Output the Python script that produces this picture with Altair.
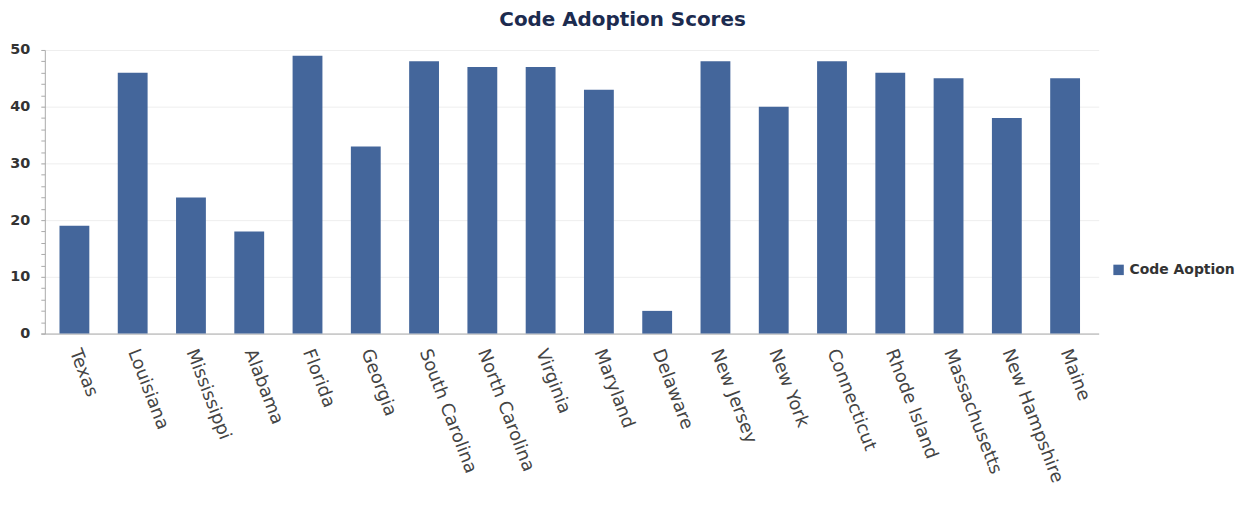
import altair as alt
import pandas as pd

states = ["Texas", "Louisiana", "Mississippi", "Alabama", "Florida", "Georgia",
          "South Carolina", "North Carolina", "Virginia", "Maryland", "Delaware",
          "New Jersey", "New York", "Connecticut", "Rhode Island", "Massachusetts",
          "New Hampshire", "Maine"]
scores = [19, 46, 24, 18, 49, 33, 48, 47, 47, 43, 4, 48, 40, 48, 46, 45, 38, 45]
series = ["Code Aoption"] * len(states)

df = pd.DataFrame({"State": states, "Score": scores, "Series": series})

FONT = "DejaVu Sans"

chart = alt.Chart(df).mark_bar(color="#44669b").encode(
    x=alt.X("State:N", sort=states, title=None,
            scale=alt.Scale(paddingInner=0.488, paddingOuter=0.32),
            axis=alt.Axis(labelAngle=69, labelAlign="left", labelBaseline="middle",
                          labelFontSize=18, labelColor="#444444", labelFont=FONT,
                          labelPadding=16, ticks=False, domainColor="#aaaaaa",
                          labelLimit=300)),
    y=alt.Y("Score:Q", title=None,
            scale=alt.Scale(domain=[0, 50], nice=False),
            axis=alt.Axis(values=list(range(0, 51, 2)),
                          labelExpr="datum.value % 10 == 0 ? datum.label : ''",
                          labelFontSize=14.5, labelFontWeight="bold", labelColor="#333333",
                          labelFont=FONT, labelPadding=11,
                          tickSize=4, tickColor="#aaaaaa", offset=-4,
                          domainColor="#aaaaaa",
                          gridColor="#eeeeee",
                          gridOpacity=alt.condition("datum.value % 10 == 0", alt.value(1), alt.value(0)))),
    fill=alt.Fill("Series:N", scale=alt.Scale(range=["#44669b"]),
                  legend=alt.Legend(title=None, orient="none", legendX=1076, legendY=214,
                                    symbolType="square", symbolSize=110,
                                    labelFontSize=14, labelFontWeight="bold",
                                    labelColor="#333333", labelFont=FONT)),
).properties(
    width=1063, height=285,
    title=alt.TitleParams("Code Adoption Scores", fontSize=20, fontWeight="bold",
                          color="#1c2b4f", font=FONT, anchor="middle", dx=53, offset=12),
    autosize=alt.AutoSizeParams(type="none"),
    padding={"left": 33, "top": 41, "right": 140, "bottom": 150},
).configure_view(stroke=None)

chart.save("out.html", embed_options={"renderer": "svg", "actions": False})
